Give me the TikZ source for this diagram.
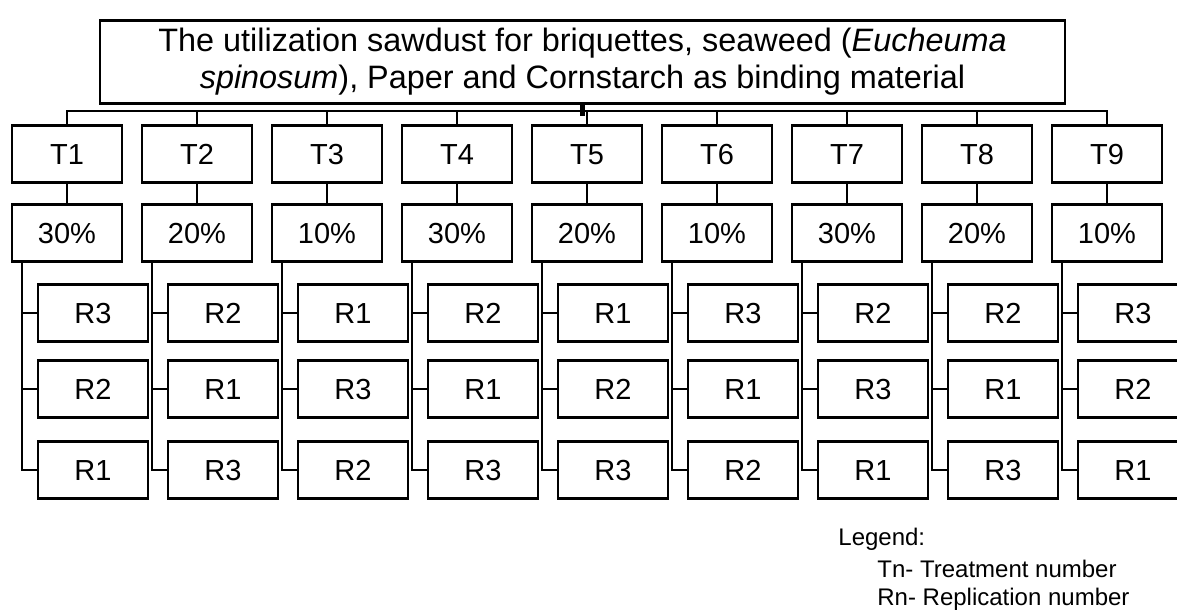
\documentclass[tikz,border=0pt]{standalone}
\usepackage{fontspec}
\setmainfont{Liberation Sans}
\usepackage{tikz}

\begin{document}
\begin{tikzpicture}[
  x=0.5pt, y=-0.5pt,
  font=\fontsize{14.5}{17}\selectfont,
  box/.style={draw, line width=1.3pt, minimum width=55pt, minimum height=28.5pt, inner sep=2pt,
    text height=10.4pt, text depth=0pt},
  head/.style={draw, line width=1.3pt, minimum width=482.5pt, minimum height=41.5pt, align=center,
    font=\fontsize{16.2}{18.5}\selectfont},
  legend/.style={anchor=base west, inner sep=0pt, font=\fontsize{12}{14}\selectfont},
  ln/.style={line width=1.3pt}
]
\useasboundingbox (0,0) rectangle (1177,615);
\clip (0,0) rectangle (1177,615);
% ---- nodes ------------------------------------------------------------------
\node[head] (title) at (582.5,62)
  {The utilization sawdust for briquettes, seaweed (\textit{Eucheuma}\\
   \textit{spinosum}), Paper and Cornstarch as binding material};

\node[box] (t1) at (67,154) {T1};   \node[box] (p1) at (67,233) {30\%};
\node[box] (t2) at (197,154) {T2};  \node[box] (p2) at (197,233) {20\%};
\node[box] (t3) at (327,154) {T3};  \node[box] (p3) at (327,233) {10\%};
\node[box] (t4) at (457,154) {T4};  \node[box] (p4) at (457,233) {30\%};
\node[box] (t5) at (587,154) {T5};  \node[box] (p5) at (587,233) {20\%};
\node[box] (t6) at (717,154) {T6};  \node[box] (p6) at (717,233) {10\%};
\node[box] (t7) at (847,154) {T7};  \node[box] (p7) at (847,233) {30\%};
\node[box] (t8) at (977,154) {T8};  \node[box] (p8) at (977,233) {20\%};
\node[box] (t9) at (1107,154) {T9}; \node[box] (p9) at (1107,233) {10\%};

% replications, top to bottom
\node[box] (r1a) at (93,313) {R3};   \node[box] (r1b) at (93,389) {R2};   \node[box] (r1c) at (93,470) {R1};
\node[box] (r2a) at (223,313) {R2};  \node[box] (r2b) at (223,389) {R1};  \node[box] (r2c) at (223,470) {R3};
\node[box] (r3a) at (353,313) {R1};  \node[box] (r3b) at (353,389) {R3};  \node[box] (r3c) at (353,470) {R2};
\node[box] (r4a) at (483,313) {R2};  \node[box] (r4b) at (483,389) {R1};  \node[box] (r4c) at (483,470) {R3};
\node[box] (r5a) at (613,313) {R1};  \node[box] (r5b) at (613,389) {R2};  \node[box] (r5c) at (613,470) {R3};
\node[box] (r6a) at (743,313) {R3};  \node[box] (r6b) at (743,389) {R1};  \node[box] (r6c) at (743,470) {R2};
\node[box] (r7a) at (873,313) {R2};  \node[box] (r7b) at (873,389) {R3};  \node[box] (r7c) at (873,470) {R1};
\node[box] (r8a) at (1003,313) {R2}; \node[box] (r8b) at (1003,389) {R1}; \node[box] (r8c) at (1003,470) {R3};
\node[box] (r9a) at (1133,313) {R3}; \node[box] (r9b) at (1133,389) {R2}; \node[box] (r9c) at (1133,470) {R1};

\node[legend] (leg) at (838,545) {Legend:};
\node[legend] (legT) at (877,577) {Tn- Treatment number};
\node[legend] (legR) at (877,605) {Rn- Replication number};

% ---- edges ------------------------------------------------------------------
\draw[ln, line width=2.2pt] (title.south) -- ++(0,11);
\draw[ln] (t1.north) -- ++(0,-13) -| (t9.north);
\draw[ln] (t2.north) -- ++(0,-13);
\draw[ln] (t3.north) -- ++(0,-13);
\draw[ln] (t4.north) -- ++(0,-13);
\draw[ln] (t5.north) -- ++(0,-13);
\draw[ln] (t6.north) -- ++(0,-13);
\draw[ln] (t7.north) -- ++(0,-13);
\draw[ln] (t8.north) -- ++(0,-13);

\draw[ln] (t1) -- (p1); \draw[ln] (t2) -- (p2); \draw[ln] (t3) -- (p3);
\draw[ln] (t4) -- (p4); \draw[ln] (t5) -- (p5); \draw[ln] (t6) -- (p6);
\draw[ln] (t7) -- (p7); \draw[ln] (t8) -- (p8); \draw[ln] (t9) -- (p9);

\draw[ln] ([xshift=-22.5pt]p1.south) |- (r1c.west) ([xshift=-22.5pt]p1.south |- r1a) -- (r1a.west) ([xshift=-22.5pt]p1.south |- r1b) -- (r1b.west);
\draw[ln] ([xshift=-22.5pt]p2.south) |- (r2c.west) ([xshift=-22.5pt]p2.south |- r2a) -- (r2a.west) ([xshift=-22.5pt]p2.south |- r2b) -- (r2b.west);
\draw[ln] ([xshift=-22.5pt]p3.south) |- (r3c.west) ([xshift=-22.5pt]p3.south |- r3a) -- (r3a.west) ([xshift=-22.5pt]p3.south |- r3b) -- (r3b.west);
\draw[ln] ([xshift=-22.5pt]p4.south) |- (r4c.west) ([xshift=-22.5pt]p4.south |- r4a) -- (r4a.west) ([xshift=-22.5pt]p4.south |- r4b) -- (r4b.west);
\draw[ln] ([xshift=-22.5pt]p5.south) |- (r5c.west) ([xshift=-22.5pt]p5.south |- r5a) -- (r5a.west) ([xshift=-22.5pt]p5.south |- r5b) -- (r5b.west);
\draw[ln] ([xshift=-22.5pt]p6.south) |- (r6c.west) ([xshift=-22.5pt]p6.south |- r6a) -- (r6a.west) ([xshift=-22.5pt]p6.south |- r6b) -- (r6b.west);
\draw[ln] ([xshift=-22.5pt]p7.south) |- (r7c.west) ([xshift=-22.5pt]p7.south |- r7a) -- (r7a.west) ([xshift=-22.5pt]p7.south |- r7b) -- (r7b.west);
\draw[ln] ([xshift=-22.5pt]p8.south) |- (r8c.west) ([xshift=-22.5pt]p8.south |- r8a) -- (r8a.west) ([xshift=-22.5pt]p8.south |- r8b) -- (r8b.west);
\draw[ln] ([xshift=-22.5pt]p9.south) |- (r9c.west) ([xshift=-22.5pt]p9.south |- r9a) -- (r9a.west) ([xshift=-22.5pt]p9.south |- r9b) -- (r9b.west);
\end{tikzpicture}
\end{document}
